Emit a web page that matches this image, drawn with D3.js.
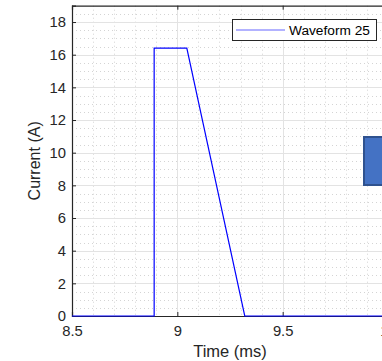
<!DOCTYPE html>
<html>
<head>
<meta charset="utf-8">
<script src="https://cdn.jsdelivr.net/npm/d3@7"></script>
<style>
  html, body { margin: 0; padding: 0; background: #fff; overflow: hidden; }
  svg { display: block; font-family: "Liberation Sans", Arial, Helvetica, sans-serif; }
</style>
</head>
<body>
<svg id="chart" width="382" height="361"></svg>
<script>
// Pulse current waveform (ms vs A)
const timeMs = [8.5, 8.89, 8.89, 9.045, 9.32, 10];
const currentA = [0, 0, 16.4, 16.4, 0, 0];
const seriesName = "Waveform 25";
const xTicks = [8.5, 9, 9.5, 10];
const yTicks = [0, 2, 4, 6, 8, 10, 12, 14, 16, 18];

const svg = d3.select("#chart");
const plotL = 72, plotR = 388, plotT = 5.7, plotB = 316;

const x = d3.scaleLinear().domain([8.5, 10]).range([plotL, plotR]);
const y = d3.scaleLinear().domain([0, 19]).range([plotB, plotT]);

const textColor = "#262626";

// Minor grid (dotted)
const minorX = d3.range(8.6, 10, 0.1).filter(v => Math.abs(v * 2 - Math.round(v * 2)) > 1e-6);
const minorY = d3.range(0.5, 19, 0.5).filter(v => Math.abs(v / 2 - Math.round(v / 2)) > 1e-6);
const grid = svg.append("g");
grid.selectAll("line.mx").data(minorX).join("line")
  .attr("x1", d => Math.round(x(d)) + 0.5).attr("x2", d => Math.round(x(d)) + 0.5)
  .attr("y1", plotT).attr("y2", plotB)
  .attr("stroke", "#d4d4d4").attr("stroke-dasharray", "1,3");
grid.selectAll("line.my").data(minorY).join("line")
  .attr("y1", d => Math.round(y(d)) + 0.5).attr("y2", d => Math.round(y(d)) + 0.5)
  .attr("x1", plotL).attr("x2", plotR)
  .attr("stroke", "#d4d4d4").attr("stroke-dasharray", "1,3");

// Major grid
grid.selectAll("line.gx").data(xTicks.slice(1)).join("line")
  .attr("x1", d => Math.round(x(d)) + 0.5).attr("x2", d => Math.round(x(d)) + 0.5)
  .attr("y1", plotT).attr("y2", plotB)
  .attr("stroke", "#e3e3e3");
grid.selectAll("line.gy").data(yTicks.slice(1)).join("line")
  .attr("y1", d => Math.round(y(d)) + 0.5).attr("y2", d => Math.round(y(d)) + 0.5)
  .attr("x1", plotL).attr("x2", plotR)
  .attr("stroke", "#e3e3e3");

// Axes with inward ticks
const xAxis = svg.append("g").attr("transform", `translate(0,${plotB})`)
  .call(d3.axisBottom(x).tickValues(xTicks).tickSize(-4).tickPadding(7)
    .tickFormat(d3.format("")));
const xTop = svg.append("g").attr("transform", `translate(0,${plotT})`)
  .call(d3.axisTop(x).tickValues(xTicks).tickSize(-4).tickFormat(""));
const yAxis = svg.append("g").attr("transform", `translate(${plotL},0)`)
  .call(d3.axisLeft(y).tickValues(yTicks).tickSize(-4).tickPadding(6));

[xAxis, xTop, yAxis].forEach(g => {
  g.selectAll("path").attr("stroke", textColor).attr("stroke-width", 1.2);
  g.selectAll("line").attr("stroke", textColor);
  g.selectAll("text").attr("fill", textColor).style("font-size", "14.8px")
    .style("font-family", "'Liberation Sans', Arial, sans-serif");
});
xAxis.selectAll("text").attr("dy", "0.85em");

// Axis titles
svg.append("text").attr("x", (plotL + plotR) / 2).attr("y", 356.5)
  .attr("text-anchor", "middle").attr("fill", textColor)
  .style("font-size", "16.5px").text("Time (ms)");
svg.append("text")
  .attr("transform", `translate(40,${(plotT + plotB) / 2}) rotate(-90)`)
  .attr("text-anchor", "middle").attr("fill", textColor)
  .style("font-size", "16px").text("Current (A)");

// Waveform
const pts = timeMs.map((t, i) => [t, currentA[i]]);
svg.append("path").datum(pts)
  .attr("d", d3.line().x(d => x(d[0])).y(d => y(d[1])))
  .attr("fill", "none").attr("stroke", "#0000ff").attr("stroke-width", 1.2);

// Legend
const lg = svg.append("g");
lg.append("rect").attr("x", 232.5).attr("y", 19.5).attr("width", 144).attr("height", 21)
  .attr("fill", "#fff").attr("stroke", "#262626").attr("stroke-width", 1);
lg.append("line").attr("x1", 236).attr("x2", 285).attr("y1", 30).attr("y2", 30)
  .attr("stroke", "#0000ff").attr("stroke-width", 1).attr("opacity", 0.6);
lg.append("text").attr("x", 289).attr("y", 35).attr("fill", "#000")
  .style("font-size", "13.7px").text(seriesName);

// Overlay box at right edge
svg.append("rect").attr("x", 364).attr("y", 137).attr("width", 30).attr("height", 48)
  .attr("fill", "#4472C4").attr("stroke", "#2F528F").attr("stroke-width", 2);
</script>
</body>
</html>
